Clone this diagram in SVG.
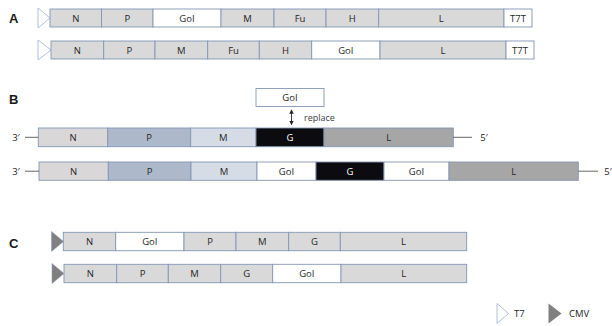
<svg xmlns="http://www.w3.org/2000/svg" width="612" height="326" viewBox="0 0 612 326">
<defs>
<style>
.t{font-family:"Open Sans","Liberation Sans",sans-serif;font-size:9.5px;fill:#262626;text-anchor:middle;dominant-baseline:central}
.lab{font-family:"Liberation Sans","Open Sans",sans-serif;font-size:13px;font-weight:bold;fill:#1a1a1a}
.b{stroke:#8496b4;stroke-width:0.9}
.gr{fill:#d9d9d9}
.wh{fill:#ffffff}
.pb{fill:#adb9ca}
.mb{fill:#d6dce5}
.bk{fill:#0c0c10}
.lg{fill:#a6a6a6}
.nn{fill:#d9d7d8}
.t7{fill:#ffffff;stroke:#a9b8d6;stroke-width:0.9}
.cmv{fill:#808080;stroke:#8496b4;stroke-width:0.5}
.ln{stroke:#404040;stroke-width:0.8;fill:none}
.s{font-family:"Open Sans","Liberation Sans",sans-serif;font-size:9.5px;fill:#262626}
</style>
<marker id="ah" viewBox="0 0 6 6" refX="5" refY="3" markerWidth="5" markerHeight="5" orient="auto-start-reverse"><path d="M0,0 L6,3 L0,6 z" fill="#262626"/></marker>
</defs>
<text class="lab" x="9" y="23">A</text>
<text class="lab" x="9" y="104">B</text>
<text class="lab" x="9" y="248">C</text>

<g id="rowA1">
<polygon class="t7" points="38,8 50,18 38,28"/>
<rect class="b gr" x="50" y="9" width="51.5" height="18"/><text class="t" x="75.8" y="18">N</text>
<rect class="b gr" x="101.5" y="9" width="51.5" height="18"/><text class="t" x="127.3" y="18">P</text>
<rect class="b wh" x="153" y="9" width="68" height="18"/><text class="t" x="187" y="18">GoI</text>
<rect class="b gr" x="221" y="9" width="53" height="18"/><text class="t" x="247.5" y="18">M</text>
<rect class="b gr" x="274" y="9" width="52" height="18"/><text class="t" x="300" y="18">Fu</text>
<rect class="b gr" x="326" y="9" width="52.7" height="18"/><text class="t" x="352.3" y="18">H</text>
<rect class="b gr" x="378.7" y="9" width="125.3" height="18"/><text class="t" x="441.3" y="18">L</text>
<rect class="b wh" x="504" y="9" width="28" height="18"/><text class="t" x="518" y="18">T7T</text>
</g>

<g id="rowA2">
<polygon class="t7" points="38,40 51,50 38,60"/>
<rect class="b gr" x="51" y="41" width="52.7" height="18"/><text class="t" x="77.3" y="50">N</text>
<rect class="b gr" x="103.7" y="41" width="51.3" height="18"/><text class="t" x="129.3" y="50">P</text>
<rect class="b gr" x="155" y="41" width="52.7" height="18"/><text class="t" x="181.3" y="50">M</text>
<rect class="b gr" x="207.7" y="41" width="51.6" height="18"/><text class="t" x="233.5" y="50">Fu</text>
<rect class="b gr" x="259.3" y="41" width="52.4" height="18"/><text class="t" x="285.5" y="50">H</text>
<rect class="b wh" x="311.7" y="41" width="68.3" height="18"/><text class="t" x="345.8" y="50">GoI</text>
<rect class="b gr" x="380" y="41" width="126" height="18"/><text class="t" x="443" y="50">L</text>
<rect class="b wh" x="506" y="41" width="28" height="18"/><text class="t" x="520" y="50">T7T</text>
</g>

<g id="goiInsert">
<rect class="b wh" x="256" y="88.5" width="68" height="18"/><text class="t" x="290" y="97.5">GoI</text>
</g>

<g id="rowB1">
<text class="t" x="16" y="137">3′</text>
<rect class="b nn" x="38.3" y="128" width="69.4" height="18.7"/><text class="t" x="73" y="137.3">N</text>
<rect class="b pb" x="107.7" y="128" width="83" height="18.7"/><text class="t" x="149.2" y="137.3">P</text>
<rect class="b mb" x="190.7" y="128" width="65.3" height="18.7"/><text class="t" x="223.3" y="137.3">M</text>
<rect class="b bk" x="256" y="128" width="68" height="18.7"/><text class="t" x="290" y="137.3" style="fill:#ffffff">G</text>
<rect class="b lg" x="324" y="128" width="129.3" height="18.7"/><text class="t" x="388.7" y="137.3">L</text>
<text class="t" x="484" y="137">5′</text>
</g>

<g id="rowB2">
<text class="t" x="16" y="171">3′</text>
<rect class="b nn" x="39" y="162" width="69.3" height="18.3"/><text class="t" x="73.7" y="171.2">N</text>
<rect class="b pb" x="108.3" y="162" width="82.7" height="18.3"/><text class="t" x="149.7" y="171.2">P</text>
<rect class="b mb" x="191" y="162" width="66" height="18.3"/><text class="t" x="224" y="171.2">M</text>
<rect class="b wh" x="257" y="162" width="59" height="18.3"/><text class="t" x="286.5" y="171.2">GoI</text>
<rect class="b bk" x="316" y="162" width="68" height="18.3"/><text class="t" x="350" y="171.2" style="fill:#ffffff">G</text>
<rect class="b wh" x="384" y="162" width="65" height="18.3"/><text class="t" x="416.5" y="171.2">GoI</text>
<rect class="b lg" x="449" y="162" width="129.3" height="18.3"/><text class="t" x="513.7" y="171.2">L</text>
<text class="t" x="608" y="171">5′</text>
</g>

<g id="rowC1">
<polygon class="cmv" points="51.5,231.5 63.5,241.5 51.5,251.5"/>
<rect class="b gr" x="63.3" y="232.3" width="52.4" height="18.4"/><text class="t" x="89.5" y="241.5">N</text>
<rect class="b wh" x="115.7" y="232.3" width="68.3" height="18.4"/><text class="t" x="149.8" y="241.5">GoI</text>
<rect class="b gr" x="184" y="232.3" width="52" height="18.4"/><text class="t" x="210" y="241.5">P</text>
<rect class="b gr" x="236" y="232.3" width="52.7" height="18.4"/><text class="t" x="262.3" y="241.5">M</text>
<rect class="b gr" x="288.7" y="232.3" width="51.6" height="18.4"/><text class="t" x="314.5" y="241.5">G</text>
<rect class="b gr" x="340.3" y="232.3" width="126.4" height="18.4"/><text class="t" x="403.5" y="241.5">L</text>
</g>

<g id="rowC2">
<polygon class="cmv" points="52,263.5 64,273.5 52,283.5"/>
<rect class="b gr" x="64" y="264.3" width="52.7" height="18.4"/><text class="t" x="90.3" y="273.5">N</text>
<rect class="b gr" x="116.7" y="264.3" width="51.6" height="18.4"/><text class="t" x="142.5" y="273.5">P</text>
<rect class="b gr" x="168.3" y="264.3" width="52.4" height="18.4"/><text class="t" x="194.5" y="273.5">M</text>
<rect class="b gr" x="220.7" y="264.3" width="52" height="18.4"/><text class="t" x="246.7" y="273.5">G</text>
<rect class="b wh" x="272.7" y="264.3" width="68.3" height="18.4"/><text class="t" x="306.8" y="273.5">GoI</text>
<rect class="b gr" x="341" y="264.3" width="125.7" height="18.4"/><text class="t" x="403.8" y="273.5">L</text>
</g>

<g id="connectors">
<line class="ln" x1="25" y1="137.3" x2="38.3" y2="137.3"/>
<line class="ln" x1="453.3" y1="137.3" x2="472" y2="137.3"/>
<line class="ln" x1="25" y1="171.2" x2="39" y2="171.2"/>
<line class="ln" x1="578.3" y1="171.2" x2="598" y2="171.2"/>
<line x1="291.5" y1="110" x2="291.5" y2="124.5" stroke="#262626" stroke-width="0.9" marker-start="url(#ah)" marker-end="url(#ah)"/>
<text class="s" x="304" y="120.5" style="font-size:9px;fill:#404040">replace</text>
</g>

<g id="legend">
<polygon class="t7" points="497,303.5 508.5,313.5 497,323.5"/>
<text class="s" x="514" y="317">T7</text>
<polygon class="cmv" points="548.5,303.5 561.5,313.5 548.5,323.5" style="stroke:none"/>
<text class="s" x="569" y="317">CMV</text>
</g>
</svg>
